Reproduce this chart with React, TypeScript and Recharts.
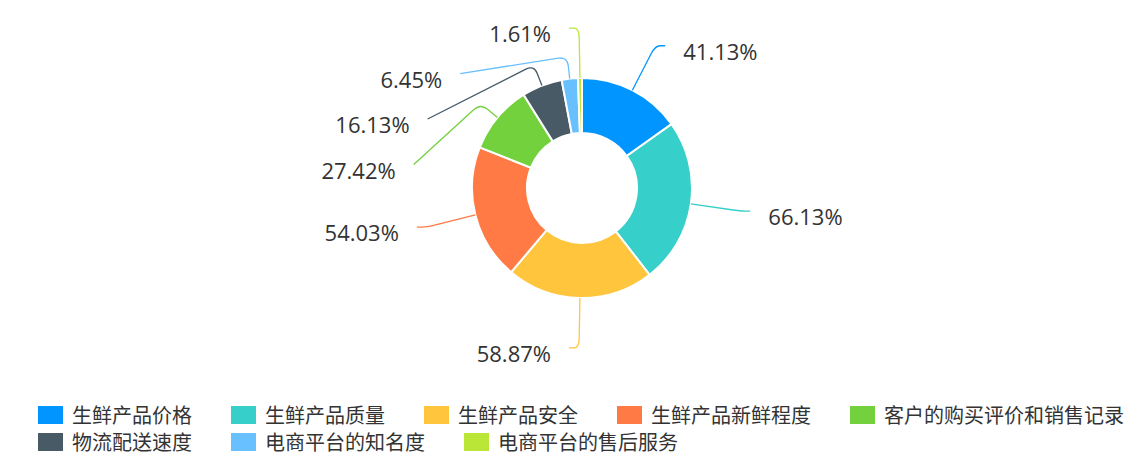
import React from "react";
import { PieChart, Pie, Cell, Legend } from "recharts";

const categories = [
  "生鲜产品价格",
  "生鲜产品质量",
  "生鲜产品安全",
  "生鲜产品新鲜程度",
  "客户的购买评价和销售记录",
  "物流配送速度",
  "电商平台的知名度",
  "电商平台的售后服务",
];
const percents = [41.13, 66.13, 58.87, 54.03, 27.42, 16.13, 6.45, 1.61];
const colors = [
  "#0095ff",
  "#36cfc9",
  "#ffc53d",
  "#ff7a45",
  "#73d13d",
  "#475a66",
  "#69c0ff",
  "#bae637",
];

const data = categories.map((name, i) => ({ name, value: percents[i] }));

const CX = 574;
const CY = 180;
const INNER = 55;
const OUTER = 110;
const LEN1 = 50;
const LEN2 = 10;
const SHORT1 = 22;
const GAP = 45.5;

// label placement: push overlapping labels apart on each side
function layoutLabels() {
  const total = percents.reduce((a, b) => a + b, 0);
  let start = 90;
  const items = percents.map((v, i) => {
    const span = (v / total) * 360;
    const mid = start - span / 2;
    start -= span;
    const rad = (mid * Math.PI) / 180;
    const cos = Math.cos(rad);
    const sin = Math.sin(rad);
    const dir = cos < 0 ? -1 : 1;
    const y0 = CY - (OUTER + LEN1) * sin;
    return { i, cos, sin, dir, y0, y: y0 };
  });
  [-1, 1].forEach((side) => {
    const list = items.filter((it) => it.dir === side).sort((a, b) => a.y0 - b.y0);
    for (let k = 1; k < list.length; k++) {
      if (list[k].y < list[k - 1].y + GAP) list[k].y = list[k - 1].y + GAP;
    }
  });
  const R = OUTER + LEN1;
  return items.map((it) => {
    const p0 = { x: CX + OUTER * it.cos, y: CY - OUTER * it.sin };
    let p1;
    let p2;
    if (Math.abs(it.y - it.y0) < 2) {
      p1 = { x: CX + R * it.cos, y: CY - R * it.sin };
      p2 = { x: p1.x + it.dir * LEN2, y: p1.y };
    } else {
      const dy = it.y - CY;
      const dx = Math.sqrt(Math.max(0, R * R - dy * dy));
      p1 = { x: CX + (OUTER + SHORT1) * it.cos, y: CY - (OUTER + SHORT1) * it.sin };
      p2 = { x: CX + it.dir * (dx + LEN2), y: it.y };
    }
    return { p0, p1, p2, dir: it.dir };
  });
}

const labelLayout = layoutLabels();

function cornerPath(p0, p1, p2, r) {
  const d1 = Math.hypot(p1.x - p0.x, p1.y - p0.y);
  const d2 = Math.hypot(p2.x - p1.x, p2.y - p1.y);
  const k1 = Math.min(r, d1 / 2);
  const k2 = Math.min(r, d2 / 2);
  const a = { x: p1.x + ((p0.x - p1.x) / d1) * k1, y: p1.y + ((p0.y - p1.y) / d1) * k1 };
  const b = { x: p1.x + ((p2.x - p1.x) / d2) * k2, y: p1.y + ((p2.y - p1.y) / d2) * k2 };
  return `M${p0.x},${p0.y}L${a.x},${a.y}Q${p1.x},${p1.y} ${b.x},${b.y}L${p2.x},${p2.y}`;
}

const renderLabel = (props: any) => {
  const { index } = props;
  const lay = labelLayout[index];
  const { p0, p1, p2, dir } = lay;
  return (
    <g key={`label-${index}`}>
      <path d={cornerPath(p0, p1, p2, 9)} stroke={colors[index]} strokeWidth={1.3} fill="none" />
      <text
        x={p2.x + dir * 18}
        y={p2.y + 5}
        textAnchor={dir < 0 ? "end" : "start"}
        dominantBaseline="central"
        fontSize={22}
        fontFamily="'Open Sans', 'Noto Sans', sans-serif"
        fill="#333"
      >
        {`${percents[index].toFixed(2)}%`}
      </text>
    </g>
  );
};

const renderLegend = () => (
  <div
    style={{
      display: "flex",
      flexWrap: "wrap",
      columnGap: 39,
      width: 1100,
      fontFamily: "'Noto Sans CJK SC', sans-serif",
      fontSize: 20,
      color: "#333",
    }}
  >
    {categories.map((name, i) => (
      <div key={name} style={{ display: "flex", alignItems: "center", height: 27 }}>
        <span
          style={{ display: "inline-block", width: 25, height: 18, background: colors[i], marginRight: 9 }}
        />
        <span style={{ lineHeight: "27px", whiteSpace: "nowrap" }}>{name}</span>
      </div>
    ))}
  </div>
);

export default function App() {
  return (
    <PieChart width={1128} height={464} margin={{ top: 0, right: 0, bottom: 0, left: 0 }}>
      <Pie
        data={data}
        dataKey="value"
        nameKey="name"
        cx={CX}
        cy={CY}
        innerRadius={INNER}
        outerRadius={OUTER}
        startAngle={90}
        endAngle={-270}
        stroke="#fff"
        strokeWidth={2}
        label={renderLabel}
        labelLine={false}
        isAnimationActive={false}
      >
        {data.map((d, i) => (
          <Cell key={d.name} fill={colors[i]} />
        ))}
      </Pie>
      <Legend
        content={renderLegend}
        wrapperStyle={{ position: "absolute", left: 30, top: 393, width: 1100 }}
      />
    </PieChart>
  );
}
